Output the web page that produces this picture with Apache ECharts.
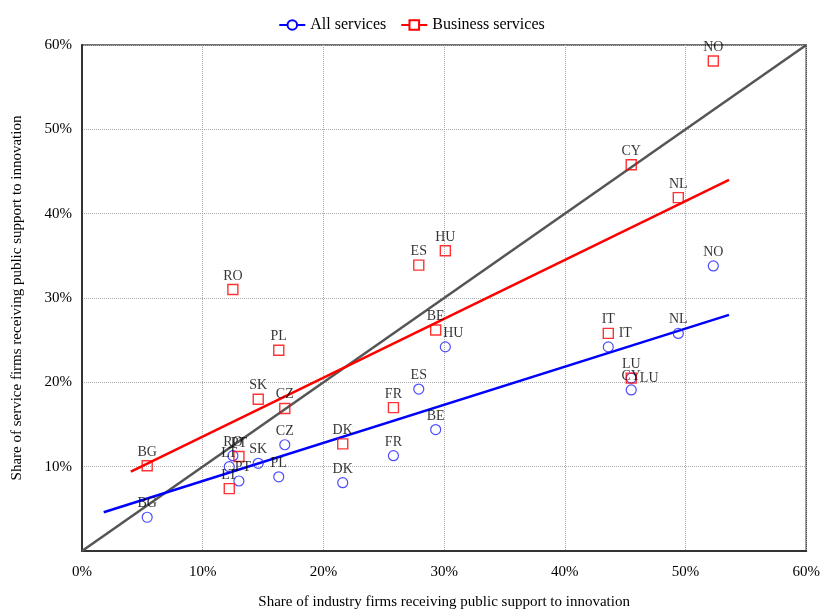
<!DOCTYPE html>
<html>
<head>
<meta charset="utf-8">
<script src="https://cdn.jsdelivr.net/npm/echarts@6/dist/echarts.min.js"></script>
<style>html,body{margin:0;padding:0;background:#fff}#c{width:823px;height:615px}</style>
</head>
<body>
<div id="c"></div>
<script>
var countries = ['BG','LT','RO','PT','SK','PL','CZ','DK','FR','ES','BE','HU','IT','NL','CY','LU','NO'];
var industryShare = [5.4,12.2,12.5,13.0,14.6,16.3,16.8,21.6,25.8,27.9,29.3,30.1,43.6,49.4,45.5,45.5,52.3];
var allServices = [4.0,10.0,11.3,8.3,10.4,8.8,12.6,8.1,11.3,19.2,14.4,24.2,24.2,25.8,19.1,20.5,33.8];
var businessServices = [10.1,7.4,31.0,11.2,18.0,23.8,16.9,12.7,17.0,33.9,26.2,35.6,25.8,41.9,45.8,20.5,58.1];
var allTrendX = [1.8, 53.6];
var allTrendY = [4.6, 28.0];
var bizTrendX = [4.05, 53.6];
var bizTrendY = [9.4, 44.0];
var diagX = [0, 60];
var diagY = [0, 60];

var FONT = 'Liberation Serif';
var blueLabelAdj = { IT: {offset:[17,0]}, HU: {offset:[8,0]}, PT: {offset:[4,0]}, LU: {position:'right', distance:3} };

function pts(xs, ys, adj) {
  return xs.map(function (x, i) {
    var d = { name: countries[i], value: [x, ys[i]] };
    if (adj && adj[countries[i]]) d.label = adj[countries[i]];
    return d;
  });
}
function line(xs, ys) { return xs.map(function (x, i) { return [x, ys[i]]; }); }

var chart = echarts.init(document.getElementById('c'), null, {renderer: 'canvas'});
var labelCommon = { show: true, position: 'top', distance: 1, formatter: '{b}', color: '#000', fontFamily: FONT, fontSize: 14 };
chart.setOption({
  animation: false,
  legend: {
    top: 12, left: 'center', itemWidth: 26, itemHeight: 12, itemGap: 14,
    data: ['All services', 'Business services'],
    textStyle: { fontFamily: FONT, fontSize: 16, color: '#000' }
  },
  grid: { left: 82, right: 15, top: 45, bottom: 59, show: true, borderColor: '#444', borderWidth: 1.5 },
  xAxis: {
    type: 'value', min: 0, max: 60, interval: 10,
    name: 'Share of industry firms receiving public support to innovation',
    nameLocation: 'middle', nameGap: 44,
    nameTextStyle: { fontFamily: FONT, fontSize: 15, color: '#000' },
    axisLine: { show: true, lineStyle: { color: '#333', width: 2 } },
    axisTick: { show: false },
    axisLabel: { fontFamily: FONT, fontSize: 15, color: '#000', margin: 14, formatter: '{value}%' },
    splitLine: { show: true, lineStyle: { type: 'dotted', color: '#aaa' } }
  },
  yAxis: {
    type: 'value', min: 0, max: 60, interval: 10,
    name: 'Share of service firms receiving public support to innovation',
    nameLocation: 'middle', nameGap: 57,
    nameTextStyle: { fontFamily: FONT, fontSize: 15, color: '#000' },
    axisLine: { show: true, lineStyle: { color: '#333', width: 2 } },
    axisTick: { show: false },
    axisLabel: { fontFamily: FONT, fontSize: 15, color: '#000', margin: 10,
      formatter: function (v) { return v === 0 ? '' : v + '%'; } },
    splitLine: { show: true, lineStyle: { type: 'dotted', color: '#aaa' } }
  },
  series: [
    { name: 'All services', type: 'line', data: line(allTrendX, allTrendY), symbol: 'emptyCircle', showSymbol: false,
      lineStyle: { color: '#0000ff', width: 2.5 }, itemStyle: { color: '#0000ff' }, z: 3 },
    { name: 'Business services', type: 'line', data: line(bizTrendX, bizTrendY), symbol: 'emptyRect', showSymbol: false,
      lineStyle: { color: '#ff0000', width: 2.5 }, itemStyle: { color: '#ff0000' }, z: 3 },
    { name: 'diag', type: 'line', data: line(diagX, diagY), showSymbol: false, symbol: 'none',
      lineStyle: { color: '#555', width: 2.5 }, z: 2 },
    { name: 'All services', type: 'scatter', data: pts(industryShare, allServices, blueLabelAdj),
      symbol: 'circle', symbolSize: 10,
      itemStyle: { color: 'rgba(0,0,0,0)', borderColor: '#2020ff', borderWidth: 1.2 },
      label: labelCommon, z: 4 },
    { name: 'Business services', type: 'scatter', data: pts(industryShare, businessServices, null),
      symbol: 'rect', symbolSize: 10,
      itemStyle: { color: 'rgba(0,0,0,0)', borderColor: '#ff0000', borderWidth: 1.4 },
      label: labelCommon, z: 4 }
  ]
});
</script>
</body>
</html>
